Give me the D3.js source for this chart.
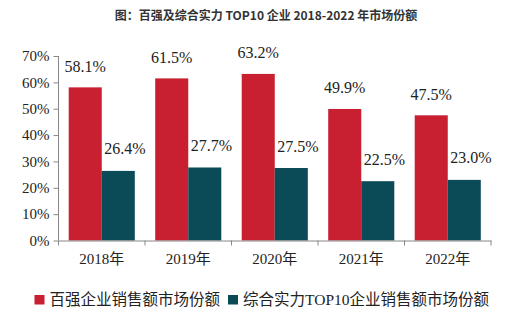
<!DOCTYPE html>
<html><head><meta charset="utf-8">
<script src="https://cdn.jsdelivr.net/npm/d3@7/dist/d3.min.js"></script>
<style>body{margin:0;background:#fff;}svg{display:block;}</style>
</head><body>
<svg id="c" width="530" height="327"></svg>
<script>
const categories = ["2018年","2019年","2020年","2021年","2022年"];
const seriesNames = ["百强企业销售额市场份额","综合实力TOP10企业销售额市场份额"];
const top100 = [0.581,0.615,0.632,0.499,0.475];
const top10 = [0.264,0.277,0.275,0.225,0.230];
const yTicks = [0,0.1,0.2,0.3,0.4,0.5,0.6,0.7];
const colors = ["#C81F31","#0B4A57"];
const title = "图：百强及综合实力 TOP10 企业 2018-2022 年市场份额";

const svg = d3.select("#c");
const serif = "'Liberation Serif','Times New Roman','Noto Sans CJK SC',serif";
const x = d3.scaleBand().domain(categories).range([58.5,491]).padding(0);
const y = d3.scaleLinear().domain([0,0.7]).range([240.5,56]);
const bw = x.bandwidth();
const xs = d3.scaleBand().domain([0,1]).range([0.118*bw,0.882*bw]).padding(0);

svg.append("text").attr("x",266).attr("y",20).attr("text-anchor","middle")
  .attr("font-family","'Noto Sans CJK SC',sans-serif").attr("font-weight","bold")
  .attr("font-size",12).attr("fill","#333").text(title);

const data = categories.map((c,i)=>({c, v:[top100[i],top10[i]]}));
const g = svg.append("g");
data.forEach(d=>{
  d.v.forEach((v,j)=>{
    g.append("rect").attr("x",x(d.c)+xs(j)).attr("y",y(v))
      .attr("width",xs.bandwidth()).attr("height",y(0)-y(v)).attr("fill",colors[j]);
  });
  g.append("text").attr("x",x(d.c)+xs(0)+xs.bandwidth()/2).attr("y",y(d.v[0])-15.5)
    .attr("text-anchor","middle").attr("font-family",serif).attr("font-size",16).attr("fill","#222")
    .text((d.v[0]*100).toFixed(1)+"%");
  g.append("text").attr("x",x(d.c)+xs(1)+2.5).attr("y",y(d.v[1])-16.5)
    .attr("text-anchor","start").attr("font-family",serif).attr("font-size",16).attr("fill","#222")
    .text((d.v[1]*100).toFixed(1)+"%");
});

const yAxis = svg.append("g").attr("transform","translate(58.5,0)")
  .call(d3.axisLeft(y).tickValues(yTicks).tickSize(5).tickPadding(4).tickFormat(d3.format(".0%")));
yAxis.selectAll("text").attr("font-family",serif).attr("font-size",15).attr("fill","#222");
yAxis.selectAll("line,path").attr("stroke","#888");
yAxis.select(".domain").attr("d","M0,56V240.5");

const xAxis = svg.append("g").attr("transform","translate(0,240.5)")
  .call(d3.axisBottom(x).tickSize(0).tickPadding(10));
xAxis.select(".domain").attr("stroke","#888");
xAxis.selectAll("text").attr("font-family",serif).attr("font-size",15).attr("fill","#222").attr("dy","0.9em");
const bounds = categories.map(c=>x(c)).concat([x.range()[1]]);
xAxis.selectAll("line.b").data(bounds).enter().append("line").attr("class","b")
  .attr("x1",d=>d).attr("x2",d=>d).attr("y1",0).attr("y2",5).attr("stroke","#888");

const leg = svg.append("g");
const legX = [34.5,228];
seriesNames.forEach((s,j)=>{
  leg.append("rect").attr("x",legX[j]).attr("y",295).attr("width",10).attr("height",9.5).attr("fill",colors[j]);
  leg.append("text").attr("x",legX[j]+15).attr("y",305).attr("font-family",serif)
    .attr("font-size",15.5).attr("fill","#222").text(s);
});
</script>
</body></html>
